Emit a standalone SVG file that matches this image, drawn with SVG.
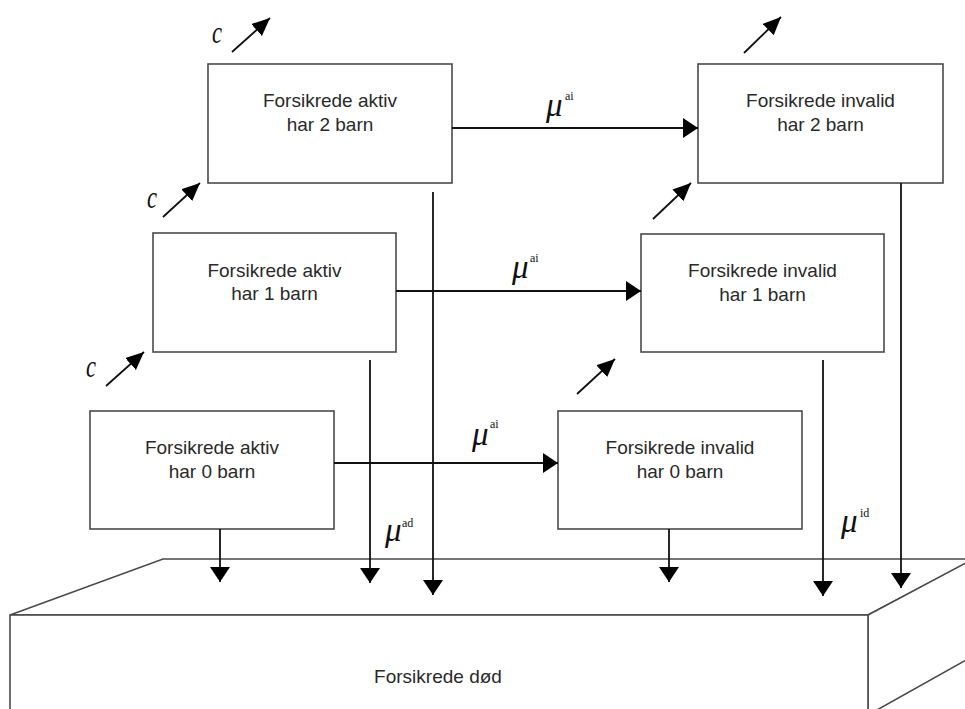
<svg xmlns="http://www.w3.org/2000/svg" width="965" height="709" viewBox="0 0 965 709">
<style>
.box{fill:#fff;stroke:#4a4a4a;stroke-width:1.6}
.lbl{font-family:"Liberation Sans",Arial,sans-serif;font-size:19px;fill:#2a2a2a;text-anchor:middle}
.ln{fill:none;stroke:#111;stroke-width:1.8}
.mu{font-family:"Liberation Serif","Times New Roman",serif;font-style:italic;font-size:33px;fill:#111}
.sup{font-family:"Liberation Serif","Times New Roman",serif;font-size:12px;fill:#111}
.c{font-family:"Liberation Serif","Times New Roman",serif;font-style:italic;font-size:32px;fill:#111}
</style>
<defs>
<marker id="ah" markerUnits="userSpaceOnUse" markerWidth="16" markerHeight="21" refX="15" refY="10" orient="auto" viewBox="0 0 16 21">
<path d="M0,0 L15,10 L0,20 Z" fill="#000"/>
</marker>
<marker id="ahs" markerUnits="userSpaceOnUse" markerWidth="19" markerHeight="17" refX="18" refY="8" orient="auto" viewBox="0 0 19 17">
<path d="M0,0 L18,8 L0,16 Z" fill="#000"/>
</marker>
</defs>
<rect width="965" height="709" fill="#fff"/>

<g id="dead">
<path class="box" d="M10,615 L163,559 L975,559 L868,615 Z"/>
<path class="box" d="M868,615 L975,558 L975,655 L868,715 Z"/>
<rect class="box" x="10" y="615" width="858" height="110"/>
<text class="lbl" x="438" y="683">Forsikrede død</text>
</g>

<g id="a2"><rect class="box" x="208" y="64" width="244" height="119"/>
<text class="lbl" x="330" y="107">Forsikrede aktiv</text><text class="lbl" x="330" y="131">har 2 barn</text></g>
<g id="a1"><rect class="box" x="153" y="233" width="243" height="119"/>
<text class="lbl" x="274.5" y="277">Forsikrede aktiv</text><text class="lbl" x="274.5" y="300">har 1 barn</text></g>
<g id="a0"><rect class="box" x="90" y="411" width="244" height="118"/>
<text class="lbl" x="212" y="454">Forsikrede aktiv</text><text class="lbl" x="212" y="478">har 0 barn</text></g>
<g id="i2"><rect class="box" x="698" y="64" width="245" height="119"/>
<text class="lbl" x="820.5" y="107">Forsikrede invalid</text><text class="lbl" x="820.5" y="131">har 2 barn</text></g>
<g id="i1"><rect class="box" x="641" y="234" width="243" height="118"/>
<text class="lbl" x="762.5" y="277">Forsikrede invalid</text><text class="lbl" x="762.5" y="301">har 1 barn</text></g>
<g id="i0"><rect class="box" x="558" y="411" width="244" height="118"/>
<text class="lbl" x="680" y="454">Forsikrede invalid</text><text class="lbl" x="680" y="478">har 0 barn</text></g>

<g id="connectors">
<line class="ln" x1="452" y1="128" x2="698" y2="128" marker-end="url(#ah)"/>
<line class="ln" x1="396" y1="291" x2="641" y2="291" marker-end="url(#ah)"/>
<line class="ln" x1="334" y1="463" x2="558" y2="463" marker-end="url(#ah)"/>
<line class="ln" x1="220" y1="529" x2="220" y2="582" marker-end="url(#ah)"/>
<line class="ln" x1="370" y1="360" x2="370" y2="583" marker-end="url(#ah)"/>
<line class="ln" x1="433" y1="192" x2="433" y2="595" marker-end="url(#ah)"/>
<line class="ln" x1="669" y1="529" x2="669" y2="582" marker-end="url(#ah)"/>
<line class="ln" x1="823" y1="360" x2="823" y2="596" marker-end="url(#ah)"/>
<line class="ln" x1="901" y1="183" x2="901" y2="588" marker-end="url(#ah)"/>
<line class="ln" x1="232" y1="52" x2="270" y2="18" marker-end="url(#ahs)"/>
<line class="ln" x1="163" y1="217" x2="200" y2="183" marker-end="url(#ahs)"/>
<line class="ln" x1="106" y1="386" x2="144" y2="352" marker-end="url(#ahs)"/>
<line class="ln" x1="744" y1="53" x2="781" y2="17" marker-end="url(#ahs)"/>
<line class="ln" x1="653" y1="219" x2="691" y2="183" marker-end="url(#ahs)"/>
<line class="ln" x1="577" y1="394" x2="615" y2="359" marker-end="url(#ahs)"/>
</g>

<g id="labels">
<text class="c" x="212" y="43" textLength="10" lengthAdjust="spacingAndGlyphs">c</text>
<text class="c" x="147" y="208" textLength="10" lengthAdjust="spacingAndGlyphs">c</text>
<text class="c" x="86" y="377" textLength="10" lengthAdjust="spacingAndGlyphs">c</text>
<text class="mu" x="546" y="116">μ</text><text class="sup" x="565" y="100">ai</text>
<text class="mu" x="512" y="278">μ</text><text class="sup" x="530" y="262">ai</text>
<text class="mu" x="472" y="445">μ</text><text class="sup" x="490" y="428">ai</text>
<text class="mu" x="385" y="541">μ</text><text class="sup" x="402" y="527">ad</text>
<text class="mu" x="841" y="532">μ</text><text class="sup" x="860" y="517">id</text>
</g>
</svg>
